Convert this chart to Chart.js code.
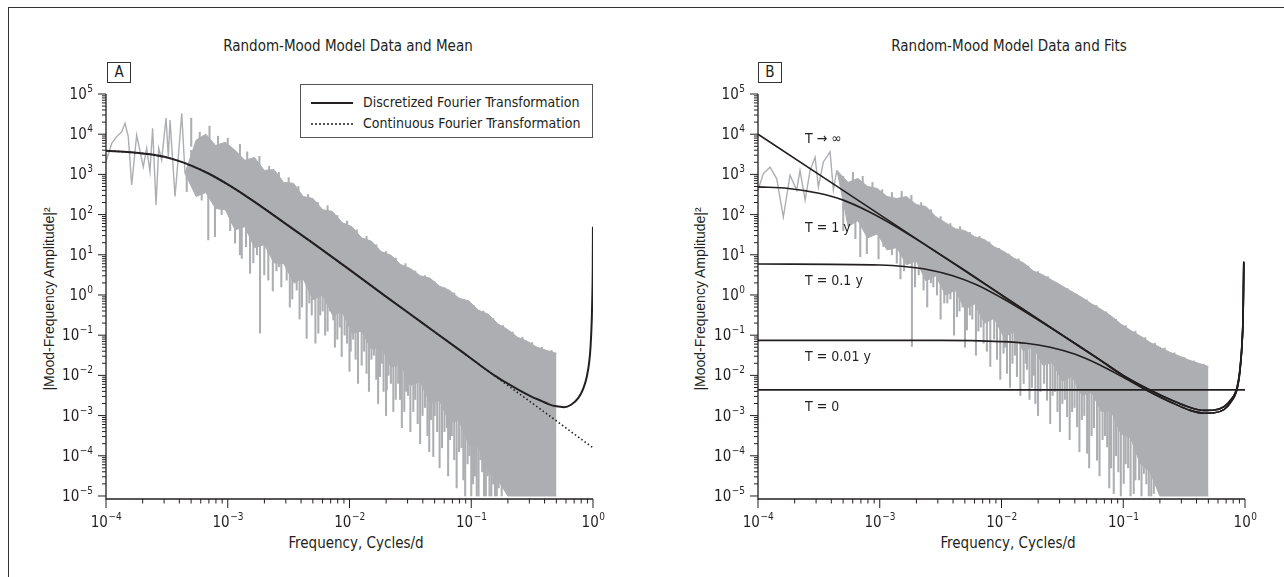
<!DOCTYPE html>
<html>
<head>
<meta charset="utf-8">
<script src="https://cdn.jsdelivr.net/npm/chart.js@4.4.1/dist/chart.umd.min.js"></script>
<style>
  body { margin: 0; width: 1284px; height: 577px; background: #fff; position: relative; overflow: hidden;
         font-family: "Liberation Sans Narrow", "DejaVu Sans Condensed", sans-serif; color: #231f20; }
  .frame { position: absolute; left: 8px; top: 7px; width: 1290px; height: 600px;
           border-top: 1.5px solid #333; border-left: 1.5px solid #333; }
  .panel { position: absolute; top: 0; height: 577px; }
  #panelA { left: 0; width: 640px; }
  #panelB { left: 640px; width: 644px; }
  .title { position: absolute; top: 37px; font-size: 15px; transform: translateX(-50%); white-space: nowrap; }
  .tag { position: absolute; top: 62px; width: 22px; height: 19px; border: 1px solid #333;
         font-size: 15px; line-height: 19px; text-align: center; }
  .ytitle { position: absolute; top: 299px; font-family: "Liberation Sans", Arial, sans-serif; font-size: 14px;
            white-space: nowrap; transform: translate(-50%, -50%) rotate(-90deg); }
  .xtitle { position: absolute; top: 534px; font-size: 15px; transform: translateX(-50%); white-space: nowrap; }
  .legend { position: absolute; left: 300px; top: 84px; width: 291px; height: 52px; border: 1px solid #555; background: #fff; }
  .legend .row { position: absolute; left: 10px; height: 18px; line-height: 18px; font-size: 14px; white-space: nowrap; }
  .legend .swatch { display: inline-block; width: 42px; height: 0; margin-right: 10px; vertical-align: middle; }
  .legend .solid { border-top: 2px solid #231f20; }
  .legend .dotted { border-top: 2px dotted #555; }
</style>
</head>
<body>
<div class="frame"></div>

<div class="title" style="left:348px">Random-Mood Model Data and Mean</div>
<div class="title" style="left:1009px">Random-Mood Model Data and Fits</div>
<div class="tag" style="left:107px">A</div>
<div class="tag" style="left:758px">B</div>
<div class="ytitle" style="left:49px">|Mood-Frequency Amplitude|²</div>
<div class="ytitle" style="left:700px">|Mood-Frequency Amplitude|²</div>
<div class="xtitle" style="left:356px">Frequency, Cycles/d</div>
<div class="xtitle" style="left:1008px">Frequency, Cycles/d</div>

<div class="panel" id="panelA"><canvas id="chartA" width="640" height="577"></canvas></div>
<div class="panel" id="panelB"><canvas id="chartB" width="644" height="577"></canvas></div>

<div class="legend">
  <div class="row" style="top:8px"><span class="swatch solid"></span>Discretized Fourier Transformation</div>
  <div class="row" style="top:29px"><span class="swatch dotted"></span>Continuous Fourier Transformation</div>
</div>

<script>
// All values are log10 readings.
const xDecades = [-4, -3, -2, -1, 0];
const yDecades = [-5, -4, -3, -2, -1, 0, 1, 2, 3, 4, 5];

// Panel A: raw periodogram, low-frequency part (single wiggly line)
const rawLogFreqA = [-4.00, -3.953, -3.912, -3.871, -3.844, -3.817, -3.789, -3.748, -3.694, -3.666, -3.639,
  -3.617, -3.589, -3.567, -3.543, -3.507, -3.488, -3.474, -3.433, -3.406, -3.378, -3.351];
const rawLogAmpA = [3.32, 3.77, 3.94, 4.06, 4.27, 3.94, 2.74, 3.98, 3.19, 3.65, 3.07,
  4.15, 2.24, 3.65, 3.36, 4.40, 3.44, 4.35, 2.45, 3.44, 4.52, 3.03];

// Dense part of the periodogram: upper edge and solid lower edge of the grey band
const bandLogFreq = [-3.351, -3.26, -3.18, -3.10, -3.02, -2.94, -2.86, -2.78, -2.70, -2.62, -2.54, -2.46, -2.38,
  -2.30, -2.22, -2.14, -2.06, -1.98, -1.90, -1.82, -1.74, -1.66, -1.58, -1.50, -1.42, -1.34, -1.26, -1.18,
  -1.10, -1.02, -0.94, -0.86, -0.78, -0.70, -0.62, -0.54, -0.46, -0.38, -0.30];
const bandLogHighA = [3.03, 3.85, 4.00, 3.72, 3.80, 3.60, 3.35, 3.42, 3.10, 3.12, 2.80, 2.78, 2.45,
  2.40, 2.12, 2.08, 1.80, 1.70, 1.42, 1.34, 1.08, 0.99, 0.76, 0.66, 0.48, 0.42, 0.22, 0.12,
  -0.08, -0.15, -0.38, -0.48, -0.72, -0.86, -1.05, -1.15, -1.30, -1.38, -1.45];
const bandLogLowA = [3.03, 2.45, 2.55, 2.15, 2.12, 1.62, 1.70, 1.18, 1.25, 0.80, 0.78, 0.32, 0.40,
  -0.12, 0.00, -0.50, -0.42, -0.95, -0.90, -1.35, -1.28, -1.80, -1.72, -2.25, -2.15, -2.68, -2.62, -3.18,
  -3.12, -3.72, -3.78, -4.40, -4.60, -5, -5, -5, -5, -5, -5];

// Single spikes sticking out of the band (dips below, peaks above)
const spikeLogFreqA = [-3.337, -3.30, -3.214, -3.16, -3.105, -3.05, -2.98, -2.94, -2.885, -2.817, -2.76, -2.735,
  -2.667, -2.60, -2.56, -2.516, -2.47, -2.434, -2.39, -2.352, -2.31, -2.256, -2.22, -2.18, -2.133, -2.10, -2.064,
  -2.02, -1.99, -1.95, -1.90, -1.86, -1.82, -1.78, -1.749, -1.72, -1.694, -1.66, -1.62, -1.585, -1.55, -1.52,
  -1.476, -1.44, -1.40, -1.36, -1.33, -1.312, -1.28, -1.24, -1.20, -1.175, -1.14, -1.10, -1.065, -1.03, -1.00,
  -0.97, -0.94, -0.91, -0.88, -0.85, -0.82, -0.79,
  -2.90, -2.85, -2.79, -2.70, -2.63, -2.58, -2.49, -2.45, -2.41, -2.33, -2.28, -2.24, -2.20, -2.16, -2.12, -2.08,
  -2.04, -2.00, -1.97, -1.93, -1.88, -1.84, -1.80, -1.765, -1.735, -1.70, -1.68, -1.64, -1.60, -1.57, -1.535,
  -1.50, -1.46, -1.42, -1.38, -1.345, -1.30, -1.26, -1.22, -1.19, -1.16, -1.12, -1.08, -1.05, -1.015, -0.985,
  -0.955, -0.925, -0.895, -0.865, -0.835, -0.805, -0.775, -0.75,
  -3.30, -3.23, -3.15, -3.08, -3.00, -2.90, -2.84, -2.74, -2.66, -2.58, -2.50, -2.42, -2.34, -2.26, -2.18, -2.10,
  -2.02, -1.94, -1.86, -1.78, -1.70, -1.62, -1.54, -1.46, -1.38, -1.30, -1.22, -1.14, -1.06, -0.98, -0.90, -0.82,
  -0.74, -0.66, -0.58, -0.50, -0.42, -0.34];
const spikeLogLowA = [2.57, 2.9, 2.36, 1.37, 1.45, 2.0, 1.6, 1.29, 0.91, 0.54, 1.0, -0.95,
  0.37, 0.6, 0.2, 0.37, -0.1, 0.12, -0.3, -1.08, -0.5, -0.95, -0.4, -0.9, -0.62, -1.1, -1.53,
  -1.2, -1.4, -1.6, -1.75, -1.95, -1.6, -2.1, -2.03, -2.4, -2.36, -2.2, -2.6, -2.6, -2.9, -2.5,
  -2.9, -3.2, -3.0, -3.5, -3.1, -4.02, -3.4, -3.8, -3.3, -3.6, -4.1, -3.9, -4.6, -4.2, -5.0,
  -4.5, -5.0, -4.4, -5.0, -5.0, -4.7, -5.0,
  1.0, 1.2, 0.8, 0.5, 0.1, 0.7, -0.3, 0.3, -0.6, -0.2, -1.2, -0.5, -1.0, -0.4, -1.3, -0.8,
  -1.0, -1.9, -1.1, -2.2, -1.4, -2.4, -1.5, -2.7, -1.7, -3.0, -2.0, -2.9, -2.2, -3.3, -2.4,
  -3.4, -2.6, -3.7, -2.8, -3.9, -3.0, -4.3, -3.4, -4.5, -3.5, -4.8, -3.8, -5.0, -4.0, -4.7,
  -5.0, -4.1, -5.0, -4.5, -5.0, -5.0, -4.8, -5.0,
  3.7, 3.6, 3.6, 3.4, 3.5, 3.2, 3.2, 2.9, 2.8, 2.6, 2.5, 2.3, 2.1, 1.9, 1.8, 1.6,
  1.4, 1.2, 1.0, 0.8, 0.6, 0.5, 0.3, 0.1, 0.0, -0.2, -0.35, -0.5, -0.65, -0.8, -0.95, -1.1,
  -1.25, -1.4, -1.5, -1.6, -1.7, -1.8];
const spikeLogHighA = [3.1, 3.6, 2.9, 2.8, 2.6, 2.5, 2.2, 2.1, 1.9, 1.7, 1.6, 1.5,
  1.4, 1.2, 1.0, 0.9, 0.8, 0.7, 0.6, 0.5, 0.3, 0.2, 0.1, 0.0, -0.1, -0.2, -0.2,
  -0.3, -0.5, -0.6, -0.7, -0.8, -0.9, -1.0, -1.1, -1.2, -1.3, -1.3, -1.4, -1.5, -1.6, -1.7,
  -1.8, -1.9, -2.0, -2.1, -2.2, -2.3, -2.4, -2.5, -2.6, -2.7, -2.8, -2.9, -3.0, -3.1, -3.2,
  -3.3, -3.4, -3.5, -3.6, -3.8, -4.0, -4.2,
  1.9, 1.8, 1.6, 1.4, 1.2, 1.1, 0.9, 0.8, 0.6, 0.4, 0.3, 0.2, 0.1, 0.0, -0.1, -0.2,
  -0.3, -0.4, -0.5, -0.6, -0.7, -0.8, -0.9, -1.0, -1.1, -1.2, -1.3, -1.3, -1.4, -1.5, -1.6,
  -1.7, -1.8, -1.9, -2.0, -2.1, -2.2, -2.4, -2.5, -2.6, -2.7, -2.8, -2.9, -3.0, -3.1, -3.2,
  -3.3, -3.4, -3.5, -3.6, -3.9, -4.1, -4.3, -4.4,
  4.40, 4.05, 4.2, 3.95, 3.9, 3.75, 3.56, 3.45, 3.2, 3.05, 2.92, 2.7, 2.5, 2.3, 2.22, 1.98,
  1.84, 1.62, 1.46, 1.25, 1.08, 0.92, 0.78, 0.6, 0.48, 0.33, 0.18, 0.05, -0.12, -0.26, -0.40, -0.58,
  -0.76, -0.92, -1.05, -1.18, -1.30, -1.38];

// Panel A: model spectra
const discLogFreqA = [-4.00, -3.80, -3.60, -3.45, -3.30, -3.15, -3.00, -2.85, -2.70, -2.50, -2.30, -2.00,
  -1.70, -1.40, -1.10, -0.93, -0.80, -0.72, -0.60, -0.51, -0.42, -0.36, -0.30, -0.24, -0.18, -0.12, -0.08,
  -0.05, -0.03, -0.02, -0.01, -0.005, -0.002, -0.0005];
const discLogAmpA = [3.59, 3.55, 3.48, 3.38, 3.22, 3.01, 2.75, 2.46, 2.15, 1.72, 1.29, 0.63,
  -0.04, -0.70, -1.36, -1.74, -2.02, -2.17, -2.38, -2.52, -2.64, -2.72, -2.77, -2.79, -2.73, -2.56, -2.33,
  -2.02, -1.64, -1.28, -0.60, 0.05, 0.70, 1.70];
const contLogFreqA = [-4.00, -3.80, -3.60, -3.45, -3.30, -3.15, -3.00, -2.85, -2.70, -2.50, -2.30, -2.00,
  -1.70, -1.40, -1.10, -0.93, -0.70, -0.40, -0.10, 0];
const contLogAmpA = [3.59, 3.55, 3.48, 3.38, 3.22, 3.01, 2.75, 2.46, 2.15, 1.72, 1.29, 0.63,
  -0.04, -0.70, -1.36, -1.74, -2.25, -2.91, -3.58, -3.80];

// Panel B: raw periodogram
const rawLogFreqB = [-4.00, -3.956, -3.901, -3.846, -3.792, -3.737, -3.682, -3.655, -3.613, -3.572, -3.531,
  -3.504, -3.463, -3.408, -3.381, -3.353];
const rawLogAmpB = [2.61, 3.02, 3.18, 2.89, 1.94, 2.98, 2.61, 3.10, 2.36, 3.10, 3.43,
  2.69, 3.31, 3.56, 2.61, 3.10];
const bandLogHighB = [3.10, 2.80, 2.90, 2.70, 2.65, 2.45, 2.40, 2.45, 2.25, 2.20, 1.95, 1.80, 1.65,
  1.60, 1.45, 1.38, 1.20, 1.08, 0.92, 0.80, 0.60, 0.50, 0.36, 0.22, 0.08, -0.06, -0.22, -0.36,
  -0.52, -0.72, -0.88, -1.02, -1.18, -1.30, -1.42, -1.52, -1.62, -1.70, -1.78];
const bandLogLowB = [3.10, 1.70, 1.85, 1.42, 1.52, 1.12, 1.18, 0.75, 0.85, 0.35, 0.48, 0.00, 0.12,
  -0.35, -0.22, -0.70, -0.58, -1.05, -0.92, -1.40, -1.28, -1.75, -1.68, -2.15, -2.02, -2.50, -2.42, -2.90,
  -2.88, -3.45, -3.55, -4.20, -4.40, -5, -5, -5, -5, -5, -5];
const spikeLogFreqB = [-3.30, -3.243, -3.16, -3.106, -3.05, -2.97, -2.90, -2.86, -2.80, -2.736, -2.68, -2.64,
  -2.58, -2.53, -2.47, -2.42, -2.366, -2.32, -2.284, -2.24, -2.19, -2.147, -2.092, -2.037, -1.983, -1.955,
  -1.91, -1.873, -1.818, -1.79, -1.75, -1.722, -1.68, -1.626, -1.58, -1.54, -1.50, -1.461, -1.42, -1.379,
  -1.34, -1.297, -1.26, -1.215, -1.17, -1.132, -1.10, -1.078, -1.04, -0.996, -0.96, -0.914, -0.87, -0.831,
  -0.79, -0.749,
  -3.20, -3.12, -3.01, -2.93, -2.83, -2.76, -2.71, -2.61, -2.56, -2.50, -2.445, -2.39, -2.345, -2.30, -2.26,
  -2.21, -2.17, -2.12, -2.06, -2.01, -1.97, -1.93, -1.89, -1.845, -1.80, -1.77, -1.735, -1.70, -1.65, -1.60,
  -1.56, -1.52, -1.48, -1.44, -1.40, -1.36, -1.32, -1.28, -1.24, -1.195, -1.15, -1.115, -1.06, -1.02, -0.98,
  -0.94, -0.90, -0.85, -0.81, -0.77,
  -3.30, -3.22, -3.14, -3.06, -2.98, -2.90, -2.82, -2.74, -2.66, -2.58, -2.50, -2.42, -2.34, -2.26, -2.18, -2.10,
  -2.02, -1.94, -1.86, -1.78, -1.70, -1.62, -1.54, -1.46, -1.38, -1.30, -1.22, -1.14, -1.06, -0.98, -0.90, -0.82,
  -0.74, -0.66, -0.58, -0.50, -0.42, -0.34];
const spikeLogLowB = [1.6, 1.94, 0.95, 1.03, 1.5, 1.2, 1.0, 0.79, 0.6, -1.28, 0.5, 0.12,
  0.3, 0.0, -0.2, -0.1, -0.54, -0.3, -0.87, -0.6, -0.9, -1.2, -1.78, -1.6, -1.45, -1.95,
  -1.7, -2.03, -2.2, -1.85, -2.3, -2.7, -2.4, -2.62, -2.5, -2.9, -2.7, -3.03, -2.9, -3.28,
  -3.1, -3.94, -3.5, -4.11, -3.6, -3.78, -4.3, -4.94, -4.4, -4.69, -4.3, -4.94, -4.6, -4.44,
  -5.0, -4.94,
  1.4, 1.7, 0.9, 1.4, 0.4, 0.9, 0.2, -0.3, 0.2, -0.6, -0.2, -1.0, -0.4, -1.3, -0.5,
  -1.5, -0.8, -1.4, -1.1, -2.1, -1.3, -2.3, -1.5, -2.5, -1.7, -2.6, -2.0, -3.0, -2.2, -3.2,
  -2.4, -3.4, -2.6, -3.6, -2.8, -3.9, -3.0, -4.3, -3.3, -4.5, -3.5, -4.8, -4.0, -5.0, -4.2,
  -5.0, -4.6, -5.0, -4.7, -5.0,
  2.5, 2.5, 2.4, 2.3, 2.2, 2.1, 2.1, 2.0, 1.9, 1.7, 1.5, 1.4, 1.3, 1.1, 1.0, 0.9,
  0.7, 0.6, 0.4, 0.3, 0.1, 0.0, -0.2, -0.3, -0.45, -0.6, -0.75, -0.9, -1.05, -1.2, -1.35, -1.5,
  -1.6, -1.7, -1.8, -1.9, -2.0, -2.1];
const spikeLogHighB = [2.3, 2.3, 2.1, 2.0, 1.9, 1.8, 1.6, 1.5, 1.3, 1.2, 1.0, 0.9,
  0.8, 0.7, 0.5, 0.4, 0.3, 0.2, 0.1, 0.0, -0.1, -0.2, -0.3, -0.4, -0.5, -0.6,
  -0.7, -0.8, -0.9, -1.0, -1.1, -1.2, -1.3, -1.4, -1.5, -1.6, -1.7, -1.8, -1.9, -2.0,
  -2.1, -2.2, -2.3, -2.4, -2.5, -2.6, -2.7, -2.8, -2.9, -3.0, -3.2, -3.3, -3.5, -3.7,
  -3.9, -4.2,
  2.2, 2.0, 1.8, 1.7, 1.4, 1.3, 1.1, 0.9, 0.8, 0.6, 0.5, 0.4, 0.3, 0.1, 0.0,
  -0.1, -0.2, -0.3, -0.4, -0.5, -0.6, -0.7, -0.8, -0.9, -1.0, -1.1, -1.2, -1.3, -1.4, -1.5,
  -1.6, -1.7, -1.8, -1.9, -2.0, -2.1, -2.2, -2.3, -2.4, -2.5, -2.6, -2.7, -2.9, -3.0, -3.1,
  -3.3, -3.4, -3.6, -3.8, -4.1,
  2.95, 3.05, 2.95, 2.80, 2.62, 2.55, 2.58, 2.48, 2.30, 2.12, 1.95, 1.78, 1.70, 1.56, 1.46, 1.32,
  1.16, 1.02, 0.90, 0.72, 0.58, 0.46, 0.30, 0.16, 0.02, -0.12, -0.26, -0.42, -0.60, -0.76, -0.90, -1.06,
  -1.20, -1.32, -1.44, -1.55, -1.64, -1.72];

// Panel B: fitted spectra for different T
const infLogFreqB = [-4, -3, -2, -1.5, -1.188, -1.0, -0.776, -0.6, -0.45, -0.338, -0.25, -0.173, -0.12,
  -0.064, -0.04, -0.023, -0.015, -0.01];
const infLogAmpB = [4.00, 2.00, 0.00, -1.00, -1.62, -2.00, -2.37, -2.62, -2.80, -2.87, -2.86, -2.78, -2.62,
  -2.28, -1.80, -1.12, -0.40, 0.83];
const oneYLogFreqB = [-4, -3.75, -3.5, -3.3, -3.1, -2.9, -2.7, -2.5, -2.3, -2.0, -1.5, -1.188, -1.0,
  -0.776, -0.6, -0.45, -0.338, -0.25, -0.173, -0.12, -0.064, -0.04, -0.023, -0.015, -0.01];
const oneYLogAmpB = [2.69, 2.65, 2.53, 2.36, 2.09, 1.76, 1.39, 1.00, 0.61, 0.00, -1.00, -1.62, -2.00,
  -2.37, -2.62, -2.80, -2.87, -2.86, -2.78, -2.62, -2.28, -1.80, -1.12, -0.40, 0.83];
const tenthLogFreqB = [-4, -3.0, -2.8, -2.6, -2.4, -2.2, -2.0, -1.8, -1.6, -1.4, -1.2, -1.0,
  -0.776, -0.6, -0.45, -0.338, -0.25, -0.173, -0.12, -0.064, -0.04, -0.023, -0.015, -0.01];
const tenthLogAmpB = [0.77, 0.745, 0.71, 0.63, 0.48, 0.25, -0.07, -0.43, -0.81, -1.20, -1.60, -2.02,
  -2.42, -2.68, -2.87, -2.94, -2.93, -2.85, -2.68, -2.33, -1.85, -1.15, -0.45, 0.80];
const hundredthLogFreqB = [-4, -2.5, -2.0, -1.8, -1.6, -1.4, -1.2, -1.0, -0.776, -0.6, -0.45,
  -0.338, -0.25, -0.173, -0.12, -0.064, -0.04, -0.023, -0.015, -0.01];
const hundredthLogAmpB = [-1.13, -1.13, -1.16, -1.20, -1.30, -1.47, -1.73, -2.05, -2.42, -2.68, -2.87,
  -2.94, -2.93, -2.85, -2.68, -2.33, -1.85, -1.15, -0.45, 0.80];
const zeroLogFreqB = [-4, 0];
const zeroLogAmpB = [-2.36, -2.36];

// Curve labels of panel B, anchored in data coordinates
const noteTextB = ['T \u2192 \u221E', 'T = 1 y', 'T = 0.1 y', 'T = 0.01 y', 'T = 0'];
const noteLogFreqB = [-3.613, -3.613, -3.613, -3.613, -3.613];
const noteLogAmpB = [3.79, 1.57, 0.25, -1.63, -2.88];

const INK = '#231f20';
const GREY = '#acaeb1';
const NARROW = '"Liberation Sans Narrow", "DejaVu Sans Condensed", sans-serif';

const pts = (fs, vs) => fs.map((f, i) => ({ x: 10 ** f, y: 10 ** vs[i] }));
const bars = (fs, lo, hi) => fs.map((f, i) => ({ x: 10 ** f, y: [10 ** lo[i], 10 ** hi[i]] }));

function drawPower(ctx, d, x, base, align) {
    const exp = String(d).replace('-', '\u2212');
    ctx.font = '15px ' + NARROW;
    const wb = ctx.measureText('10').width;
    ctx.font = '10px ' + NARROW;
    const we = ctx.measureText(exp).width;
    const left = align === 'center' ? x - (wb + we) / 2 : x - wb - we - 0.5;
    ctx.textAlign = 'left';
    ctx.font = '15px ' + NARROW;
    ctx.fillText('10', left, base);
    ctx.font = '10px ' + NARROW;
    ctx.fillText(exp, left + wb + 0.5, base - 7);
}

// Axis lines, outward log ticks, power-of-ten labels and curve notes
const logAxes = {
    id: 'logAxes',
    afterDraw(chart, args, opts) {
        const { ctx, chartArea: a } = chart;
        const sx = chart.scales.x, sy = chart.scales.y;
        ctx.save();
        ctx.strokeStyle = INK;
        ctx.fillStyle = INK;
        ctx.lineWidth = 1.3;
        ctx.beginPath();
        ctx.moveTo(a.left, a.top);
        ctx.lineTo(a.left, a.bottom);
        ctx.lineTo(a.right, a.bottom);
        ctx.stroke();

        ctx.lineWidth = 1;
        ctx.beginPath();
        xDecades.forEach((d, i) => {
            const px = sx.getPixelForValue(10 ** d);
            ctx.moveTo(px, a.bottom);
            ctx.lineTo(px, a.bottom + 9);
            if (i < xDecades.length - 1) {
                for (let m = 2; m <= 9; m++) {
                    const p = sx.getPixelForValue(m * 10 ** d);
                    ctx.moveTo(p, a.bottom);
                    ctx.lineTo(p, a.bottom + 4.5);
                }
            }
        });
        yDecades.forEach((d, i) => {
            const py = sy.getPixelForValue(10 ** d);
            ctx.moveTo(a.left, py);
            ctx.lineTo(a.left - 8, py);
            if (i < yDecades.length - 1) {
                for (let m = 2; m <= 9; m++) {
                    const p = sy.getPixelForValue(m * 10 ** d);
                    ctx.moveTo(a.left, p);
                    ctx.lineTo(a.left - 4, p);
                }
            }
        });
        ctx.stroke();

        ctx.textBaseline = 'alphabetic';
        xDecades.forEach(d => drawPower(ctx, d, sx.getPixelForValue(10 ** d), a.bottom + 28, 'center'));
        yDecades.forEach(d => drawPower(ctx, d, a.left - 13, sy.getPixelForValue(10 ** d) + 5, 'right'));

        ctx.font = '14px ' + NARROW;
        ctx.textAlign = 'left';
        (opts.notes || []).forEach(n => {
            ctx.fillText(n.text, sx.getPixelForValue(n.x), sy.getPixelForValue(n.y));
        });
        ctx.restore();
    }
};

function greyLayers(raw, bandHigh, bandLow, spikes) {
    return [
        { type: 'bar', data: spikes, backgroundColor: GREY, borderWidth: 0, barThickness: 1.4, grouped: false, order: 6 },
        { data: bandLow, borderColor: GREY, borderWidth: 1, fill: false, order: 5 },
        { data: bandHigh, borderColor: GREY, borderWidth: 1, backgroundColor: GREY, fill: '-1', order: 5 },
        { data: raw, borderColor: GREY, borderWidth: 1.4, fill: false, order: 4 }
    ];
}

function curve(data, width, dash) {
    return { data, borderColor: INK, borderWidth: width, borderDash: dash || [], fill: false,
             cubicInterpolationMode: 'monotone', order: dash ? 2 : 1 };
}

function makeChart(id, padding, datasets, notes) {
    return new Chart(document.getElementById(id), {
        type: 'line',
        data: { datasets },
        options: {
            responsive: false,
            animation: false,
            layout: { padding },
            elements: { point: { radius: 0 }, line: { tension: 0 } },
            plugins: { legend: { display: false }, tooltip: { enabled: false }, logAxes: { notes } },
            scales: {
                x: { type: 'logarithmic', min: 1e-4, max: 1, offset: false, display: false },
                y: { type: 'logarithmic', min: 10 ** -5.075, max: 1e5, display: false }
            }
        },
        plugins: [logAxes]
    });
}

makeChart('chartA', { left: 106, right: 47, top: 94, bottom: 78 }, [
    ...greyLayers(pts(rawLogFreqA, rawLogAmpA), pts(bandLogFreq, bandLogHighA), pts(bandLogFreq, bandLogLowA),
                  bars(spikeLogFreqA, spikeLogLowA, spikeLogHighA)),
    curve(pts(contLogFreqA, contLogAmpA), 1.6, [1.5, 2.5]),
    curve(pts(discLogFreqA, discLogAmpA), 2)
], []);

makeChart('chartB', { left: 118, right: 39, top: 94, bottom: 78 }, [
    ...greyLayers(pts(rawLogFreqB, rawLogAmpB), pts(bandLogFreq, bandLogHighB), pts(bandLogFreq, bandLogLowB),
                  bars(spikeLogFreqB, spikeLogLowB, spikeLogHighB)),
    curve(pts(zeroLogFreqB, zeroLogAmpB), 1.6),
    curve(pts(hundredthLogFreqB, hundredthLogAmpB), 1.6),
    curve(pts(tenthLogFreqB, tenthLogAmpB), 1.6),
    curve(pts(oneYLogFreqB, oneYLogAmpB), 1.6),
    curve(pts(infLogFreqB, infLogAmpB), 1.6)
], noteTextB.map((text, i) => ({ text, x: 10 ** noteLogFreqB[i], y: 10 ** noteLogAmpB[i] })));
</script>
</body>
</html>
